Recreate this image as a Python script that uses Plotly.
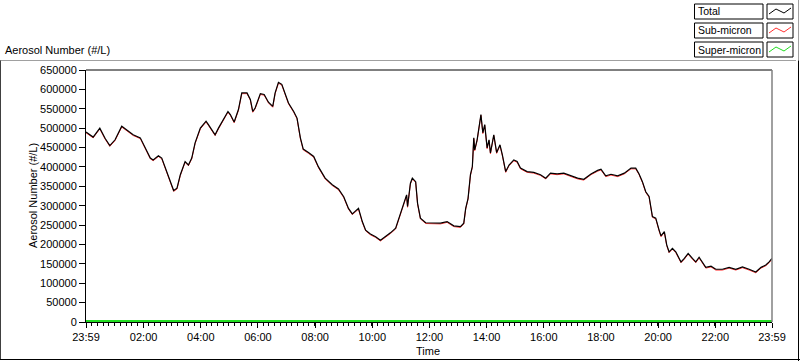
import datetime as dt
import plotly.graph_objects as go

# ---------------- data ----------------
times = ["23:59","00:14","00:28","00:39","00:49","01:00","01:14","01:25","01:38","01:53",
         "02:03","02:14","02:20","02:31","02:38","02:45","02:52","03:03","03:10","03:17",
         "03:27","03:34","03:41","03:48","03:59","04:11","04:16","04:30","04:37","04:48",
         "04:57","05:02","05:10","05:19","05:26","05:37","05:44","05:49","05:54","06:05",
         "06:13","06:22","06:31","06:36","06:43","06:50","06:57","07:04","07:15","07:22",
         "07:29","07:35","07:46","07:57","08:07","08:21","08:36","08:49","09:00","09:10",
         "09:18","09:24","09:31","09:39","09:46","09:56","10:07","10:17","10:28","10:38",
         "10:49","10:56","11:06","11:12","11:14","11:20","11:24","11:31","11:35","11:41",
         "11:52","12:06","12:23","12:37","12:51","13:05","13:12","13:16","13:21","13:26",
         "13:30","13:33","13:35","13:40","13:46","13:48","13:52","13:56","14:01","14:05",
         "14:08","14:15","14:21","14:28","14:33","14:40","14:47","14:57","15:04","15:11",
         "15:25","15:39","15:53","16:04","16:14","16:28","16:42","16:56","17:11","17:24",
         "17:39","17:53","18:00","18:10","18:21","18:35","18:49","19:03","19:13","19:20",
         "19:27","19:34","19:41","19:48","19:55","20:02","20:06","20:13","20:18","20:23",
         "20:30","20:37","20:48","20:55","21:03","21:12","21:19","21:26","21:33","21:40",
         "21:51","22:01","22:15","22:29","22:43","22:57","23:11","23:25","23:36","23:46",
         "23:53","23:59"]

total = [490000,477000,500000,474000,455000,470000,505000,494000,483000,475000,
         449000,423000,418000,429000,423000,401000,375000,339000,345000,380000,
         414000,405000,423000,462000,500000,518000,509000,483000,500000,522000,
         543000,535000,516000,548000,591000,591000,574000,543000,552000,589000,
         587000,567000,556000,591000,618000,613000,591000,565000,543000,526000,
         475000,446000,437000,427000,400000,371000,354000,343000,323000,293000,
         279000,285000,293000,259000,237000,227000,220000,211000,220000,230000,
         242000,268000,306000,328000,298000,358000,371000,362000,306000,268000,
         256000,255000,255000,259000,248000,246000,255000,293000,319000,380000,
         401000,475000,444000,470000,522000,535000,488000,509000,449000,470000,
         436000,483000,437000,457000,431000,388000,405000,418000,414000,397000,
         388000,386000,380000,371000,384000,382000,384000,377000,371000,368000,
         382000,391000,394000,377000,381000,377000,384000,397000,397000,382000,
         362000,336000,324000,272000,268000,237000,222000,233000,199000,181000,
         190000,181000,155000,164000,177000,164000,155000,167000,155000,141000,
         144000,136000,136000,141000,136000,142000,136000,129000,141000,147000,
         155000,164000]

sub_micron = [488000,475000,498000,472000,453000,468000,503000,492000,481000,473000,
              447000,421000,416000,427000,421000,399000,373000,337000,343000,378000,
              412000,403000,421000,460000,498000,516000,507000,481000,498000,520000,
              541000,533000,514000,546000,589000,589000,572000,541000,550000,587000,
              585000,565000,554000,589000,616000,611000,589000,563000,541000,524000,
              473000,444000,435000,425000,398000,369000,352000,341000,321000,291000,
              277000,283000,291000,257000,235000,225000,218000,209000,218000,228000,
              240000,266000,304000,326000,296000,356000,369000,360000,304000,266000,
              254000,253000,253000,257000,246000,244000,253000,291000,317000,378000,
              399000,473000,442000,468000,520000,533000,486000,507000,447000,468000,
              434000,481000,435000,455000,429000,386000,403000,416000,412000,395000,
              386000,384000,378000,369000,382000,380000,382000,375000,369000,366000,
              380000,389000,392000,375000,379000,375000,382000,395000,395000,380000,
              360000,334000,322000,270000,266000,235000,220000,231000,197000,179000,
              188000,179000,153000,162000,175000,162000,153000,165000,153000,139000,
              142000,134000,134000,139000,134000,140000,134000,127000,139000,145000,
              153000,162000]

super_times = ["23:59","02:00","04:00","06:00","08:00","10:00","12:00",
               "14:00","16:00","18:00","20:00","22:00","23:59"]
super_micron = [2600,2800,2700,3000,3100,2900,2600,2800,2600,2500,2400,2300,2400]

tick_labels = ["23:59","02:00","04:00","06:00","08:00","10:00","12:00",
               "14:00","16:00","18:00","20:00","22:00","23:59"]

series_names = ["Total", "Sub-micron", "Super-micron"]
series_colors = ["#000000", "#ff3030", "#22dd22"]


def to_datetimes(labels):
    out = []
    for i, s in enumerate(labels):
        h, m = map(int, s.split(":"))
        day = 1 if i == 0 else 2
        out.append(dt.datetime(2000, 1, day, h, m))
    return out


x_total = to_datetimes(times)
x_super = to_datetimes(super_times)
x_ticks = to_datetimes(tick_labels)
x_start, x_end = x_ticks[0], x_ticks[-1]

# ---------------- figure ----------------
W, H = 800, 361
ML, MR, MT, MB = 86, 28, 70, 39
PW, PH = W - ML - MR, H - MT - MB


def px(xp):
    return (xp - ML) / PW


def py(yp):
    return (H - MB - yp) / PH


FONT = "Liberation Sans"
FS = 11

fig = go.Figure()
fig.add_trace(go.Scatter(x=x_total, y=sub_micron, mode="lines", name=series_names[1],
                         line=dict(color=series_colors[1], width=1)))
fig.add_trace(go.Scatter(x=x_total, y=total, mode="lines", name=series_names[0],
                         line=dict(color=series_colors[0], width=1.2)))
fig.add_trace(go.Scatter(x=x_super, y=super_micron, mode="lines", name=series_names[2],
                         line=dict(color=series_colors[2], width=2)))

shapes = []
# outer frame
shapes.append(dict(type="line", xref="paper", yref="paper", x0=px(0), x1=px(796),
                   y0=py(60.5), y1=py(60.5), line=dict(color="#a0a0a0", width=1)))
shapes.append(dict(type="line", xref="paper", yref="paper", x0=px(0.5), x1=px(0.5),
                   y0=py(60.5), y1=py(360), line=dict(color="#404040", width=1)))
shapes.append(dict(type="line", xref="paper", yref="paper", x0=px(0), x1=px(800),
                   y0=py(359.5), y1=py(359.5), line=dict(color="#000000", width=1)))
shapes.append(dict(type="line", xref="paper", yref="paper", x0=px(798.5), x1=px(798.5),
                   y0=py(0), y1=py(60.5), line=dict(color="#a0a0a0", width=1)))
shapes.append(dict(type="line", xref="paper", yref="paper", x0=px(798.5), x1=px(798.5),
                   y0=py(60.5), y1=py(361), line=dict(color="#000000", width=1)))
# plot area top and right border
shapes.append(dict(type="line", xref="paper", yref="paper", x0=0, x1=1, y0=1, y1=1,
                   line=dict(color="#000000", width=1)))
shapes.append(dict(type="line", xref="paper", yref="paper", x0=1, x1=1, y0=0, y1=1,
                   line=dict(color="#808080", width=1.5)))

annotations = []
# legend boxes
row_tops = [4, 23, 42]
for name, color, top in zip(series_names, series_colors, row_tops):
    shapes.append(dict(type="rect", xref="paper", yref="paper",
                       x0=px(694.5), x1=px(763), y0=py(top), y1=py(top + 15),
                       line=dict(color="#000000", width=1), fillcolor="white"))
    shapes.append(dict(type="rect", xref="paper", yref="paper",
                       x0=px(767), x1=px(793), y0=py(top), y1=py(top + 15),
                       line=dict(color="#000000", width=1), fillcolor="white"))
    pts = [(769, top + 10), (776, top + 5), (784, top + 9), (791, top + 4)]
    path = "M " + " L ".join(f"{px(a)},{py(b)}" for a, b in pts)
    shapes.append(dict(type="path", xref="paper", yref="paper", path=path,
                       line=dict(color=color, width=1)))
    annotations.append(dict(text=name, xref="paper", yref="paper", x=px(696), y=py(top + 7.5),
                            xanchor="left", yanchor="middle", showarrow=False,
                            font=dict(family=FONT, size=10.5, color="black")))

annotations.append(dict(text="Aerosol Number (#/L)", xref="paper", yref="paper",
                        x=px(3), y=py(50), xanchor="left", yanchor="middle", showarrow=False,
                        font=dict(family=FONT, size=FS, color="black")))
annotations.append(dict(text="Aerosol Number (#/L)", xref="paper", yref="paper",
                        x=px(33), y=py(196), xanchor="center", yanchor="middle",
                        textangle=-90, showarrow=False,
                        font=dict(family=FONT, size=FS, color="black")))
annotations.append(dict(text="Time", xref="paper", yref="paper",
                        x=px(428), y=py(351), xanchor="center", yanchor="middle",
                        showarrow=False, font=dict(family=FONT, size=FS, color="black")))

fig.update_layout(
    width=W, height=H,
    margin=dict(l=ML, r=MR, t=MT, b=MB, pad=0),
    paper_bgcolor="white", plot_bgcolor="white",
    showlegend=False,
    font=dict(family=FONT, size=FS, color="black"),
    shapes=shapes, annotations=annotations,
    xaxis=dict(type="date", range=[x_start, x_end], tickmode="array",
               tickvals=x_ticks, ticktext=tick_labels, layer="below traces",
               ticks="outside", ticklen=5, tickcolor="black", tickwidth=1,
               showline=True, linecolor="black", linewidth=1, showgrid=False,
               zeroline=False, tickfont=dict(family=FONT, size=FS, color="black"),
               minor=dict(ticks="outside", ticklen=3, tickcolor="black",
                          tick0=x_start, dtick=12 * 60 * 1000, showgrid=False)),
    yaxis=dict(range=[0, 650000], tickmode="linear", tick0=0, dtick=50000,
               tickformat="d", ticks="outside", ticklen=6, tickcolor="black",
               layer="below traces",
               showline=True, linecolor="black", linewidth=1, showgrid=False,
               zeroline=False, tickfont=dict(family=FONT, size=FS, color="black")),
)

fig.write_html("out.html", config={"displayModeBar": False},
               post_script="document.body.style.margin='0';document.body.style.overflow='hidden';")
